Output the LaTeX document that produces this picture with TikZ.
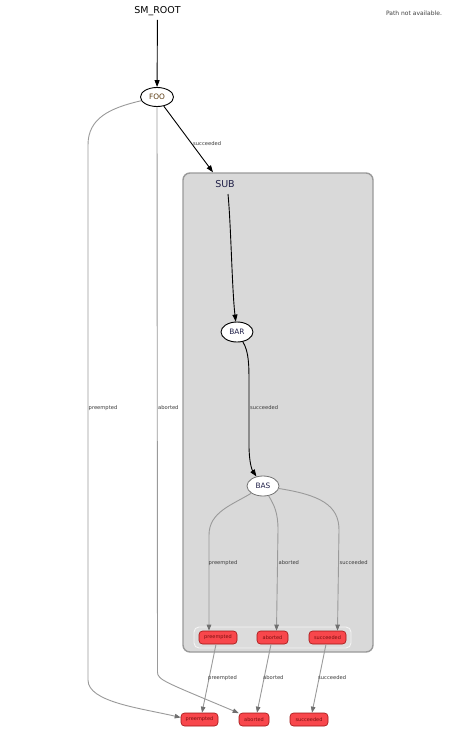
\documentclass[tikz,border=0pt]{standalone}
\usepackage{fontspec}
\setmainfont{DejaVu Sans}
\usetikzlibrary{arrows.meta,shapes.geometric}
\definecolor{clusterfill}{HTML}{D9D9D9}
\definecolor{clusterline}{HTML}{9A9A9A}
\definecolor{contfill}{HTML}{DCDCDC}
\definecolor{contline}{HTML}{F4F4F4}
\definecolor{outfill}{HTML}{F8474C}
\definecolor{outline}{HTML}{A01414}
\definecolor{outtext}{HTML}{7A1010}
\definecolor{edgegray}{HTML}{9A9A9A}
\definecolor{tipgray}{HTML}{707070}
\definecolor{lbltext}{HTML}{3A3A3A}
\definecolor{foocol}{HTML}{5A3A10}
\definecolor{statecol}{HTML}{202048}
\tikzset{
  cluster/.style={rectangle, rounded corners=7pt, draw=clusterline, fill=clusterfill, line width=1.4pt, inner sep=0},
  incont/.style={rectangle, rounded corners=5pt, draw=contline, fill=contfill, line width=0.9pt, inner sep=0},
  statenode/.style={ellipse, draw=black, line width=0.9pt, fill=white, inner sep=0, minimum width=33pt, minimum height=19pt, font=\fontsize{7.4}{8}\selectfont, text=statecol},
  outcome/.style={rectangle, rounded corners=3.5pt, draw=outline, fill=outfill, line width=0.6pt, minimum height=13pt, inner sep=0, font=\fontsize{5}{6}\selectfont, text=outtext},
  blk/.style={draw=black, line width=0.9pt, -{Triangle[length=7pt,width=5pt]}},
  gry/.style={draw=edgegray, line width=0.9pt, -{Triangle[length=6pt,width=4.5pt,color=tipgray]}},
  elabel/.style={font=\fontsize{5.2}{6}\selectfont, text=lbltext, inner sep=0, anchor=west},
}
\begin{document}
\begin{tikzpicture}[x=1pt,y=-1pt]
\useasboundingbox[fill=white] (0,0) rectangle (470,740);
% cluster
\node[cluster, minimum width=190pt, minimum height=479pt] (sub) at (278,412.5) {};
\node[font=\fontsize{9.5}{11}\selectfont, text=statecol, inner sep=1pt] (sublabel) at (225,184) {SUB};
\coordinate (subout) at (228,194);
\node[incont, minimum width=157pt, minimum height=21pt] (incont) at (272.5,637.5) {};
% top
\node[font=\fontsize{9.5}{11}\selectfont, inner sep=1pt] (root) at (157.5,11) {SM\_ROOT};
\node[font=\fontsize{6}{7}\selectfont, text=black!75, inner sep=0] (pna) at (414,13) {Path not available.};
% states
\node[statenode, text=foocol] (foo) at (157,97) {FOO};
\node[statenode, minimum width=32pt, minimum height=20pt] (bar) at (237,332) {BAR};
\node[statenode, minimum width=32pt, minimum height=20pt, draw=black!55, line width=0.8pt] (bas) at (263,486) {BAS};
% outcomes
\node[outcome, minimum width=38pt] (pin) at (218,637.5) {preempted};
\node[outcome, minimum width=31pt] (ain) at (272.5,637.5) {aborted};
\node[outcome, minimum width=37pt] (sin) at (327.5,637.5) {succeeded};
\node[outcome, minimum width=37pt] (pout) at (199.5,719.5) {preempted};
\node[outcome, minimum width=30pt] (aout) at (254,719.5) {aborted};
\node[outcome, minimum width=38pt] (sout) at (309,719.5) {succeeded};
% black edges
\draw[blk, shorten <=3pt] (root) -- (foo);
\draw[blk] (foo) -- ([xshift=-65pt]sub.north);
\node[elabel] (l1) at (193,144) {succeeded};
\draw[blk] (subout) .. controls (231,225) and (232,290) .. (bar);
\draw[blk] (bar) .. controls (249,352) and (249,365) .. (249,385) -- (249,445) .. controls (249,462) and (252,470) .. (bas);
\node[elabel] (l2) at (250,408) {succeeded};
% BAS edges
\draw[gry] (bas) .. controls (232,505) and (209,512) .. (209,535) -- ([xshift=-9pt]pin.north);
\node[elabel] (l3) at (208.5,563) {preempted};
\draw[gry] (bas) .. controls (274,505) and (278,512) .. (278,530) -- ([xshift=4pt]ain.north);
\node[elabel] (l4) at (278.5,563) {aborted};
\draw[gry] (bas) .. controls (320,495) and (339,505) .. (339,530) -- ([xshift=10pt]sin.north);
\node[elabel] (l5) at (339.5,563) {succeeded};
% inner to outer
\draw[gry] ([xshift=-2pt]pin.south) -- ([xshift=2.5pt]pout.north);
\node[elabel] (l6) at (208,678) {preempted};
\draw[gry] ([xshift=-1.5pt]ain.south) -- ([xshift=3pt]aout.north);
\node[elabel] (l7) at (263,678) {aborted};
\draw[gry] ([xshift=-1.5pt]sin.south) -- ([xshift=3pt]sout.north);
\node[elabel] (l8) at (318,678) {succeeded};
% FOO outer edges
\draw[gry] (foo) .. controls (110,108) and (88,118) .. (88,145) -- (88,680) .. controls (88,702) and (140,708) .. ([yshift=2pt]pout.west);
\node[elabel] (l9) at (88.5,408) {preempted};
\draw[gry] (foo) -- (157.5,672) .. controls (157.5,680) and (165,682) .. (aout);
\node[elabel] (l10) at (158,408) {aborted};
\end{tikzpicture}
\end{document}
